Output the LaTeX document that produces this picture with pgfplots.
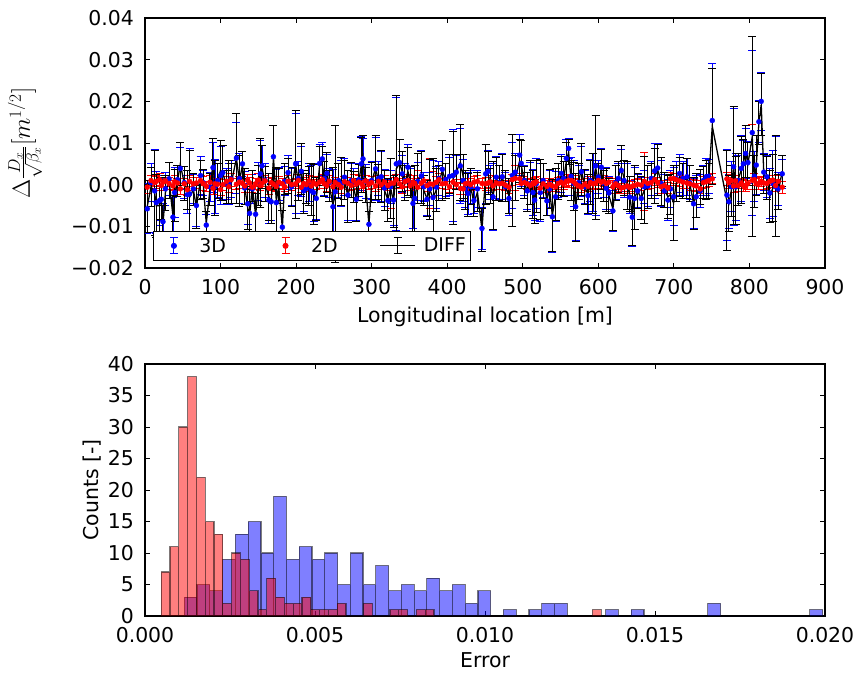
\documentclass[border=0pt]{standalone}
\usepackage[no-math]{fontspec}
\setmainfont{DejaVu Sans}
\usepackage{pgfplots}
\usepackage{pgfplotstable}
\pgfplotsset{compat=1.18}

\pgfplotstableread{
x y3 e3 y2 e2 yd ed
3 -0.0058 0.0060 -0.0006 0.0016 -0.0052 0.0062
8 0.0005 0.0045 0.0010 0.0012 -0.0005 0.0047
12.8 -0.0015 0.0100 0.0005 0.0015 -0.0020 0.0101
15 -0.0043 0.0075 0.0008 0.0013 -0.0051 0.0076
19.4 -0.0038 0.0060 0.0012 0.0014 -0.0050 0.0062
21.6 -0.0035 0.0050 -0.0002 0.0012 -0.0033 0.0051
23.8 -0.0089 0.0045 0.0006 0.0011 -0.0095 0.0046
27 -0.0010 0.0040 0.0009 0.0013 -0.0019 0.0042
31.8 0.0014 0.0040 0.0003 0.0015 0.0011 0.0043
37 -0.0078 0.0048 -0.0003 0.0012 -0.0075 0.0050
39.2 -0.0019 0.0060 0.0007 0.0014 -0.0026 0.0062
43 0.0012 0.0035 0.0004 0.0012 0.0008 0.0037
46.7 0.0039 0.0050 -0.0010 0.0013 0.0049 0.0052
52 0.0005 0.0038 0.0002 0.0012 0.0003 0.0040
56 -0.0024 0.0045 -0.0012 0.0014 -0.0012 0.0047
59 -0.0022 0.0110 0.0008 0.0013 -0.0030 0.0111
64 -0.0010 0.0035 0.0002 0.0015 -0.0012 0.0038
68 -0.0050 0.0050 0.0004 0.0013 -0.0054 0.0052
73.6 0.0022 0.0045 0.0010 0.0012 0.0012 0.0047
77 0.0005 0.0030 0.0003 0.0016 0.0002 0.0034
81.1 -0.0097 0.0025 -0.0004 0.0012 -0.0093 0.0028
86 -0.0005 0.0035 0.0006 0.0015 -0.0011 0.0038
90 0.0041 0.0060 -0.0009 0.0014 0.0050 0.0062
92.6 -0.0005 0.0065 0.0002 0.0012 -0.0007 0.0066
96 0.0010 0.0040 0.0001 0.0013 0.0009 0.0042
100 0.0022 0.0070 -0.0012 0.0015 0.0034 0.0072
103 0.0029 0.0065 0.0000 0.0013 0.0029 0.0066
108 0.0002 0.0038 0.0008 0.0012 -0.0006 0.0040
111 0.0002 0.0050 -0.0005 0.0014 0.0007 0.0052
114 0.0014 0.0045 0.0012 0.0016 0.0002 0.0048
121 0.0064 0.0085 0.0001 0.0013 0.0063 0.0107
125 0.0015 0.0060 0.0006 0.0014 0.0009 0.0062
129 0.0050 0.0030 0.0003 0.0012 0.0047 0.0033
132 -0.0008 0.0040 -0.0003 0.0015 -0.0005 0.0043
136 -0.0046 0.0050 0.0010 0.0014 -0.0056 0.0052
138.5 -0.0069 0.0060 0.0004 0.0013 -0.0073 0.0062
142 -0.0010 0.0035 -0.0006 0.0012 -0.0004 0.0037
146.4 -0.0071 0.0050 0.0002 0.0014 -0.0073 0.0052
150 0.0008 0.0045 0.0011 0.0015 -0.0003 0.0048
152.6 0.0026 0.0080 -0.0002 0.0013 0.0028 0.0082
154.8 0.0045 0.0050 0.0003 0.0012 0.0042 0.0052
159 0.0010 0.0040 0.0009 0.0014 0.0001 0.0042
164 -0.0037 0.0055 -0.0008 0.0015 -0.0029 0.0057
167 -0.0041 0.0045 0.0005 0.0013 -0.0046 0.0047
170 0.0067 0.0075 0.0001 0.0014 0.0066 0.0077
173.8 -0.0043 0.0080 -0.0004 0.0012 -0.0039 0.0081
177 0.0002 0.0040 0.0006 0.0014 -0.0004 0.0042
181.8 -0.0102 0.0040 0.0002 0.0013 -0.0104 0.0042
185 0.0008 0.0035 -0.0005 0.0012 0.0013 0.0037
189.3 0.0029 0.0040 0.0008 0.0015 0.0021 0.0043
194 -0.0005 0.0045 0.0000 0.0013 -0.0005 0.0047
199.4 0.0050 0.0120 0.0002 0.0012 0.0048 0.0129
203 0.0015 0.0040 0.0010 0.0014 0.0005 0.0042
206.9 0.0032 0.0060 -0.0006 0.0013 0.0038 0.0062
210 -0.0015 0.0050 0.0003 0.0015 -0.0018 0.0052
213.5 -0.0009 0.0035 0.0000 0.0012 -0.0009 0.0037
217 0.0005 0.0045 0.0009 0.0014 -0.0004 0.0047
220.1 -0.0015 0.0060 -0.0003 0.0013 -0.0012 0.0062
223.2 -0.0019 0.0070 0.0004 0.0015 -0.0023 0.0072
226.7 -0.0033 0.0050 0.0001 0.0012 -0.0034 0.0052
231.1 0.0051 0.0045 0.0006 0.0014 0.0045 0.0047
234.7 0.0062 0.0040 0.0012 0.0013 0.0050 0.0042
237.5 0.0015 0.0040 0.0002 0.0012 0.0013 0.0042
240.8 0.0027 0.0045 -0.0002 0.0015 0.0029 0.0048
244 0.0005 0.0035 0.0008 0.0013 -0.0003 0.0037
248.8 -0.0053 0.0090 -0.0004 0.0014 -0.0049 0.0091
251.9 -0.0017 0.0160 0.0005 0.0013 -0.0022 0.0165
256 0.0010 0.0040 0.0000 0.0012 0.0010 0.0042
259.8 0.0002 0.0055 -0.0006 0.0014 0.0008 0.0057
264 0.0018 0.0045 0.0007 0.0013 0.0011 0.0047
268.6 -0.0025 0.0060 0.0003 0.0015 -0.0028 0.0062
273 0.0010 0.0040 -0.0002 0.0012 0.0012 0.0042
276 0.0005 0.0035 0.0010 0.0014 -0.0005 0.0037
279.7 -0.0035 0.0050 0.0002 0.0013 -0.0037 0.0052
283 0.0012 0.0040 0.0006 0.0015 0.0006 0.0043
286.3 0.0050 0.0065 0.0003 0.0012 0.0047 0.0066
288.5 0.0062 0.0050 -0.0004 0.0014 0.0066 0.0052
292 0.0008 0.0040 0.0009 0.0013 -0.0001 0.0042
296.4 -0.0095 0.0030 0.0001 0.0012 -0.0096 0.0032
300 0.0010 0.0045 0.0005 0.0015 0.0005 0.0048
305.2 0.0038 0.0075 -0.0003 0.0013 0.0041 0.0076
309 0.0015 0.0040 0.0008 0.0014 0.0007 0.0042
312.7 0.0019 0.0060 0.0000 0.0012 0.0019 0.0062
317 -0.0008 0.0045 0.0006 0.0015 -0.0014 0.0048
321.5 -0.0038 0.0050 -0.0002 0.0013 -0.0036 0.0052
325 -0.0005 0.0040 0.0003 0.0060 -0.0008 0.0072
329 -0.0037 0.0060 0.0004 0.0014 -0.0041 0.0062
332.6 0.0050 0.0160 0.0012 0.0013 0.0038 0.0177
337 0.0053 0.0055 0.0002 0.0012 0.0051 0.0057
340.5 0.0026 0.0045 -0.0005 0.0015 0.0031 0.0048
344 0.0010 0.0040 0.0007 0.0013 0.0003 0.0042
348 0.0042 0.0055 0.0010 0.0014 0.0032 0.0057
351 0.0005 0.0035 -0.0002 0.0012 0.0007 0.0037
354.7 -0.0045 0.0060 0.0006 0.0015 -0.0051 0.0062
357 -0.0033 0.0080 0.0003 0.0013 -0.0036 0.0081
361 0.0008 0.0045 -0.0006 0.0040 0.0014 0.0060
365.8 0.0021 0.0060 0.0004 0.0014 0.0017 0.0062
369 -0.0005 0.0035 0.0009 0.0012 -0.0014 0.0037
373.3 -0.0035 0.0040 -0.0002 0.0015 -0.0033 0.0043
377 -0.0010 0.0040 0.0002 0.0060 -0.0012 0.0072
381.2 -0.0031 0.0090 0.0001 0.0030 -0.0032 0.0095
385.6 -0.0006 0.0050 0.0006 0.0013 -0.0012 0.0052
389 0.0015 0.0040 0.0012 0.0014 0.0003 0.0042
393.5 0.0037 0.0070 0.0002 0.0012 0.0035 0.0072
398 0.0012 0.0040 0.0003 0.0015 0.0009 0.0043
403 0.0020 0.0045 -0.0005 0.0013 0.0025 0.0047
407.7 0.0022 0.0110 0.0006 0.0014 0.0016 0.0111
412 0.0030 0.0040 0.0000 0.0012 0.0030 0.0042
417.4 0.0045 0.0090 -0.0009 0.0015 0.0054 0.0091
421 0.0010 0.0050 -0.0010 0.0013 0.0020 0.0052
424 -0.0010 0.0045 0.0002 0.0014 -0.0012 0.0047
427.5 -0.0021 0.0050 0.0004 0.0012 -0.0025 0.0052
431 -0.0005 0.0040 0.0000 0.0015 -0.0005 0.0043
435.4 -0.0038 0.0030 0.0006 0.0013 -0.0044 0.0033
440 -0.0010 0.0045 0.0008 0.0014 -0.0018 0.0047
446 -0.0105 0.0050 0.0003 0.0012 -0.0108 0.0052
450.9 0.0026 0.0070 0.0002 0.0015 0.0024 0.0072
454 0.0032 0.0050 0.0004 0.0013 0.0028 0.0052
457 0.0005 0.0040 0.0007 0.0014 -0.0002 0.0042
460.6 -0.0029 0.0080 -0.0003 0.0012 -0.0026 0.0081
465 0.0018 0.0050 0.0004 0.0015 0.0014 0.0052
469 0.0005 0.0040 0.0002 0.0013 0.0003 0.0042
472.9 0.0019 0.0055 0.0003 0.0014 0.0016 0.0057
477 -0.0005 0.0035 -0.0001 0.0012 -0.0004 0.0037
481.7 -0.0033 0.0040 -0.0006 0.0015 -0.0027 0.0043
486.1 0.0022 0.0080 0.0012 0.0013 0.0010 0.0110
490 0.0030 0.0045 0.0015 0.0030 0.0015 0.0054
495.9 0.0071 0.0050 0.0014 0.0014 0.0057 0.0052
498 0.0051 0.0055 0.0003 0.0012 0.0048 0.0057
502 0.0010 0.0035 0.0005 0.0015 0.0005 0.0038
506 -0.0015 0.0045 0.0002 0.0013 -0.0017 0.0047
510 0.0003 0.0050 -0.0002 0.0014 0.0005 0.0052
513.5 -0.0019 0.0055 0.0004 0.0012 -0.0023 0.0057
515.7 -0.0037 0.0050 0.0003 0.0015 -0.0040 0.0052
517.9 0.0002 0.0060 0.0007 0.0013 -0.0005 0.0062
523.2 -0.0019 0.0070 -0.0008 0.0014 -0.0011 0.0072
527 0.0010 0.0040 0.0002 0.0012 0.0008 0.0042
532 -0.0039 0.0035 -0.0004 0.0015 -0.0035 0.0038
535.5 -0.0010 0.0045 0.0001 0.0013 -0.0011 0.0047
539.1 -0.0077 0.0085 -0.0003 0.0014 -0.0074 0.0086
543.5 -0.0029 0.0060 -0.0005 0.0012 -0.0024 0.0062
547 0.0010 0.0040 0.0003 0.0015 0.0007 0.0043
551 0.0027 0.0045 0.0006 0.0013 0.0021 0.0047
554 0.0015 0.0040 0.0002 0.0014 0.0013 0.0042
557.6 0.0063 0.0045 0.0008 0.0012 0.0055 0.0047
560.7 0.0087 0.0025 0.0009 0.0015 0.0078 0.0030
564 0.0020 0.0045 0.0010 0.0013 0.0010 0.0047
567.3 0.0003 0.0055 0.0007 0.0014 -0.0004 0.0057
570 -0.0053 0.0080 0.0002 0.0012 -0.0055 0.0081
574 0.0005 0.0040 -0.0003 0.0015 0.0008 0.0043
577.5 0.0031 0.0060 -0.0006 0.0013 0.0037 0.0062
582 -0.0005 0.0040 0.0001 0.0014 -0.0006 0.0042
586.3 -0.0026 0.0045 -0.0004 0.0012 -0.0022 0.0047
589.5 0.0010 0.0050 0.0005 0.0015 0.0005 0.0052
592.9 0.0005 0.0070 0.0002 0.0013 0.0003 0.0072
596.4 0.0045 0.0120 0.0004 0.0014 0.0041 0.0125
600 0.0018 0.0040 0.0010 0.0012 0.0008 0.0042
603.9 0.0042 0.0045 0.0006 0.0015 0.0036 0.0048
607 0.0005 0.0035 0.0008 0.0013 -0.0003 0.0037
610.5 -0.0009 0.0050 0.0003 0.0014 -0.0012 0.0052
614 -0.0020 0.0040 0.0006 0.0012 -0.0026 0.0042
619.3 -0.0063 0.0050 -0.0005 0.0015 -0.0058 0.0052
623 0.0005 0.0040 0.0002 0.0013 0.0003 0.0042
626.5 0.0015 0.0035 -0.0003 0.0014 0.0018 0.0037
630.4 0.0034 0.0050 -0.0008 0.0012 0.0042 0.0052
634 0.0010 0.0040 -0.0006 0.0015 0.0016 0.0043
638.3 -0.0005 0.0055 -0.0003 0.0013 -0.0002 0.0057
641.5 -0.0030 0.0040 -0.0007 0.0014 -0.0023 0.0042
644.9 -0.0078 0.0070 -0.0004 0.0012 -0.0074 0.0071
648 -0.0033 0.0075 -0.0002 0.0015 -0.0031 0.0076
652 -0.0015 0.0040 0.0001 0.0013 -0.0016 0.0042
656.8 -0.0033 0.0050 -0.0001 0.0014 -0.0032 0.0052
661 -0.0005 0.0040 0.0008 0.0070 -0.0013 0.0080
665.6 -0.0003 0.0050 0.0003 0.0015 -0.0006 0.0052
670 0.0015 0.0040 0.0005 0.0013 0.0010 0.0042
674.5 0.0033 0.0065 0.0012 0.0014 0.0021 0.0066
678.5 0.0040 0.0060 0.0005 0.0012 0.0035 0.0062
683.3 0.0003 0.0055 -0.0005 0.0015 0.0008 0.0057
687.5 -0.0015 0.0040 -0.0002 0.0013 -0.0013 0.0042
692.1 -0.0037 0.0050 -0.0008 0.0014 -0.0029 0.0052
695.5 -0.0010 0.0045 0.0014 0.0015 -0.0024 0.0048
699.6 -0.0029 0.0070 0.0015 0.0012 -0.0044 0.0090
703 0.0015 0.0040 0.0012 0.0015 0.0003 0.0043
707.6 0.0027 0.0045 0.0009 0.0013 0.0018 0.0047
712 0.0015 0.0040 0.0006 0.0014 0.0009 0.0042
717.3 0.0019 0.0045 0.0004 0.0012 0.0015 0.0047
721 0.0005 0.0040 0.0002 0.0015 0.0003 0.0043
726.1 -0.0046 0.0060 -0.0001 0.0013 -0.0045 0.0062
729.6 -0.0029 0.0050 -0.0003 0.0014 -0.0026 0.0052
734.9 -0.0015 0.0040 -0.0010 0.0012 -0.0005 0.0042
739 0.0010 0.0035 0.0005 0.0015 0.0005 0.0038
742.8 0.0019 0.0045 0.0007 0.0013 0.0012 0.0047
746 0.0020 0.0040 0.0010 0.0014 0.0010 0.0042
750.8 0.0154 0.0137 0.0014 0.0012 0.0140 0.0140
770.2 -0.0025 0.0110 0.0014 0.0015 -0.0039 0.0120
772.8 -0.0041 0.0065 0.0005 0.0013 -0.0046 0.0067
776 -0.0005 0.0060 0.0010 0.0014 -0.0015 0.0062
779 0.0043 0.0140 -0.0003 0.0015 0.0046 0.0142
781.6 -0.0005 0.0080 0.0009 0.0013 -0.0014 0.0081
785 0.0010 0.0060 -0.0002 0.0014 0.0012 0.0062
789.1 0.0039 0.0080 0.0004 0.0012 0.0035 0.0081
792 0.0050 0.0055 -0.0002 0.0015 0.0052 0.0057
794.9 0.0075 0.0060 -0.0004 0.0013 0.0079 0.0062
798 0.0053 0.0050 0.0003 0.0014 0.0050 0.0052
803.7 0.0125 0.0198 0.0010 0.0134 0.0115 0.0240
806.5 0.0020 0.0060 0.0012 0.0014 0.0008 0.0062
809 0.0047 0.0070 0.0002 0.0013 0.0045 0.0072
812.5 0.0151 0.0050 0.0003 0.0014 0.0148 0.0052
815.6 0.0200 0.0070 0.0008 0.0012 0.0192 0.0075
819 0.0030 0.0045 0.0004 0.0015 0.0026 0.0047
823.1 0.0019 0.0050 0.0003 0.0013 0.0016 0.0052
827 -0.0020 0.0060 0.0008 0.0014 -0.0028 0.0062
831 0.0003 0.0080 0.0011 0.0012 -0.0008 0.0081
834.6 -0.0005 0.0120 -0.0002 0.0015 -0.0003 0.0121
838 -0.0010 0.0040 0.0008 0.0013 -0.0018 0.0042
843.4 0.0026 0.0035 -0.0006 0.0014 0.0032 0.0037
}\topdata

\pgfplotstableread{
edge count
0.001156 3
0.0015315 5
0.001907 4
0.0022825 9
0.002658 13
0.0030335 15
0.003409 10
0.0037845 19
0.00416 9
0.0045355 11
0.004911 9
0.0052865 10
0.005662 5
0.0060375 10
0.006413 5
0.0067885 8
0.007164 4
0.0075395 5
0.007915 4
0.0082905 6
0.008666 4
0.0090415 5
0.009417 2
0.0097925 4
0.010168 0
0.0105435 1
0.010919 0
0.0112945 1
0.01167 2
0.0120455 2
0.012421 0
0.0127965 0
0.013172 0
0.0135475 1
0.013923 0
0.0142985 1
0.014674 0
0.0150495 0
0.015425 0
0.0158005 0
0.016176 0
0.0165515 2
0.016927 0
0.0173025 0
0.017678 0
0.0180535 0
0.018429 0
0.0188045 0
0.01918 0
0.0195555 1
0.019931 0
}\histblue

\pgfplotstableread{
edge count
0.000476 7
0.0007348 11
0.0009936 30
0.0012524 38
0.0015112 22
0.00177 15
0.0020288 13
0.0022876 2
0.0025464 10
0.0028052 9
0.003064 4
0.0033228 1
0.0035816 6
0.0038404 3
0.0040992 2
0.004358 2
0.0046168 3
0.0048756 1
0.0051344 1
0.0053932 1
0.005652 2
0.0059108 0
0.0061696 0
0.0064284 2
0.0066872 0
0.006946 0
0.0072048 1
0.0074636 1
0.0077224 0
0.0079812 1
0.00824 1
0.0084988 0
0.0087576 0
0.0090164 0
0.0092752 0
0.009534 0
0.0097928 0
0.0100516 0
0.0103104 0
0.0105692 0
0.010828 0
0.0110868 0
0.0113456 0
0.0116044 0
0.0118632 0
0.012122 0
0.0123808 0
0.0126396 0
0.0128984 0
0.0131572 1
0.013416 0
}\histred

\pgfplotsset{
  myaxis/.style={
    scale only axis,
    anchor=south west,
    width=680bp,
    tick align=inside,
    major tick length=5bp,
    axis line style={line width=1.1bp},
    every tick/.style={line width=1bp, black},
    tick label style={font=\fontsize{20.5}{24}\selectfont},
    yticklabel style={inner sep=0pt, xshift=-11bp},
    xticklabel style={inner sep=0pt, yshift=-11bp},
    label style={font=\fontsize{20.5}{24}\selectfont},
    scaled x ticks=false, scaled y ticks=false,
  }
}

\begin{document}
\begin{tikzpicture}
\path[use as bounding box] (0bp,0bp) rectangle (858bp,-676bp);

\begin{axis}[myaxis,
  at={(145bp,-268bp)}, height=250bp,
  xmin=0, xmax=900, ymin=-0.02, ymax=0.04,
  xtick={0,100,200,300,400,500,600,700,800,900},
  xticklabels={0,100,200,300,400,500,600,700,800,900},
  ytick={-0.02,-0.01,0,0.01,0.02,0.03,0.04},
  yticklabels={−0.02,−0.01,0.00,0.01,0.02,0.03,0.04},
  xlabel={Longitudinal location [m]},
  xlabel style={at={(axis description cs:0.5,-0.196)}, anchor=center},
  ylabel={$\Delta\frac{D_x}{\sqrt{\beta_x}}[m^{1/2}]$},
  ylabel style={at={(axis description cs:-0.1765,0.5)}, anchor=center, font=\fontsize{23}{26}\selectfont},
  legend columns=3,
  legend style={at={(axis description cs:0.0118,0.028)}, anchor=south west,
    draw=black, fill=white, line width=0.8bp,
    font=\fontsize{19}{22}\selectfont,
    inner xsep=3bp, inner ysep=5bp,
    /tikz/every odd column/.append style={column sep=6bp},
    /tikz/every even column/.append style={column sep=40bp}},
]
\addplot[blue, only marks, mark=*, mark size=2.5bp, forget plot,
  error bars/.cd, y dir=both, y explicit,
  error bar style={line width=0.9bp, blue},
  error mark options={rotate=90, blue, mark size=4bp, line width=0.9bp}]
  table[x=x, y=y3, y error=e3] {\topdata};
\addplot[red, only marks, mark=*, mark size=2.5bp, forget plot,
  error bars/.cd, y dir=both, y explicit,
  error bar style={line width=0.9bp, red},
  error mark options={rotate=90, red, mark size=4bp, line width=0.9bp}]
  table[x=x, y=y2, y error=e2] {\topdata};
\addplot[black, line width=1.3bp, mark=none, forget plot,
  error bars/.cd, y dir=both, y explicit,
  error bar style={line width=1bp, black},
  error mark options={rotate=90, black, mark size=4bp, line width=1bp}]
  table[x=x, y=yd, y error=ed] {\topdata};

\addlegendimage{legend image code/.code={
  \draw[blue, line width=1bp] (17.5bp,-8bp) -- (17.5bp,8bp);
  \draw[blue, line width=1bp] (13.5bp,-8bp) -- (21.5bp,-8bp);
  \draw[blue, line width=1bp] (13.5bp,8bp) -- (21.5bp,8bp);
  \fill[blue] (17.5bp,0bp) circle (2.6bp);
  \path[draw=none] (0bp,0bp) -- (35bp,0bp);}}
\addlegendentry{3D}
\addlegendimage{legend image code/.code={
  \draw[red, line width=1bp] (17.5bp,-8bp) -- (17.5bp,8bp);
  \draw[red, line width=1bp] (13.5bp,-8bp) -- (21.5bp,-8bp);
  \draw[red, line width=1bp] (13.5bp,8bp) -- (21.5bp,8bp);
  \fill[red] (17.5bp,0bp) circle (2.6bp);
  \path[draw=none] (0bp,0bp) -- (35bp,0bp);}}
\addlegendentry{2D}
\addlegendimage{legend image code/.code={
  \draw[black, line width=1.3bp] (0bp,0bp) -- (35bp,0bp);
  \draw[black, line width=1bp] (17.5bp,-8bp) -- (17.5bp,8bp);
  \draw[black, line width=1bp] (13.5bp,-8bp) -- (21.5bp,-8bp);
  \draw[black, line width=1bp] (13.5bp,8bp) -- (21.5bp,8bp);}}
\addlegendentry{DIFF}
\end{axis}

\begin{axis}[myaxis,
  at={(145bp,-616bp)}, height=252bp,
  xmin=0, xmax=0.02, ymin=0, ymax=40,
  xtick={0,0.005,0.01,0.015,0.02},
  xticklabels={0.000,0.005,0.010,0.015,0.020},
  ytick={0,5,10,15,20,25,30,35,40},
  yticklabels={0,5,10,15,20,25,30,35,40},
  xlabel={Error},
  xlabel style={at={(axis description cs:0.5,-0.1746)}, anchor=center},
  ylabel={Counts [-]},
  ylabel style={at={(axis description cs:-0.0775,0.5)}, anchor=center},
]
\addplot[ybar interval, fill=blue, fill opacity=0.5, draw=black, draw opacity=0.5, line width=1.2bp]
  table[x=edge, y=count] {\histblue};
\addplot[ybar interval, fill=red, fill opacity=0.5, draw=black, draw opacity=0.5, line width=1.2bp]
  table[x=edge, y=count] {\histred};
\end{axis}
\end{tikzpicture}
\end{document}
